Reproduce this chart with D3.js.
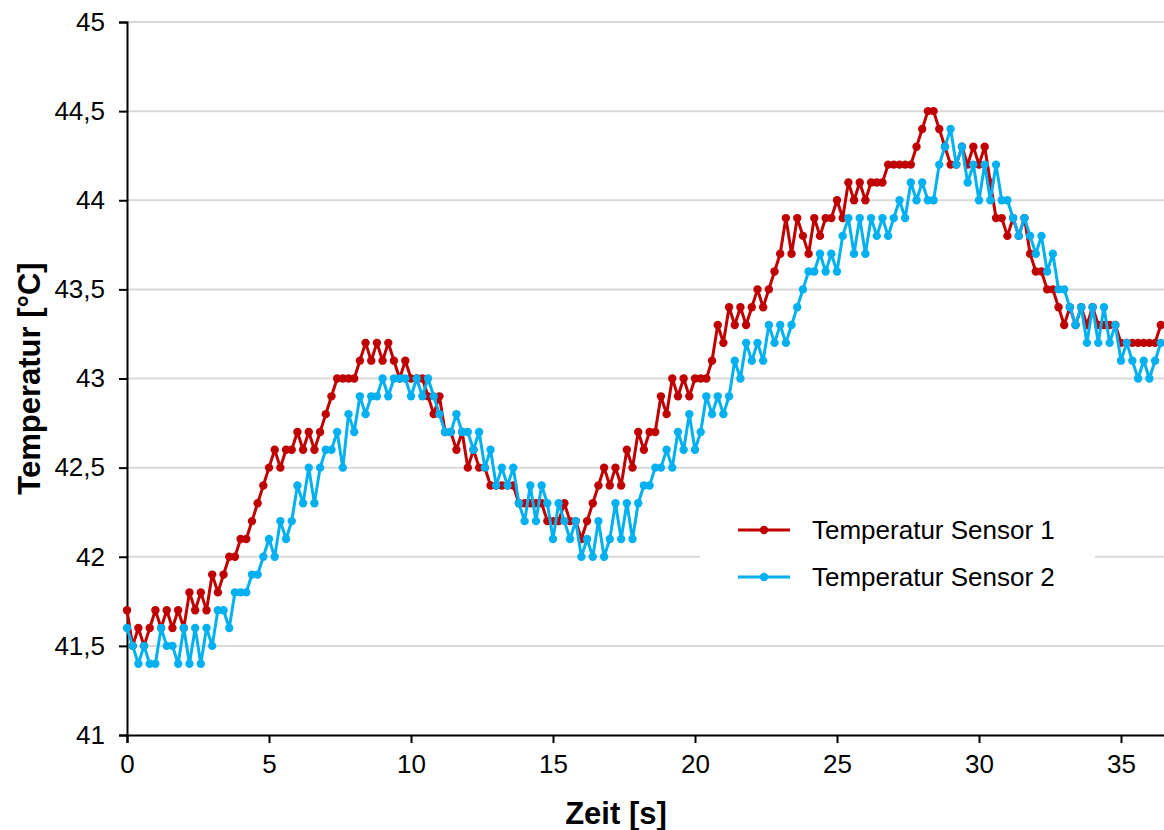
<!DOCTYPE html>
<html>
<head>
<meta charset="utf-8">
<script src="https://cdn.jsdelivr.net/npm/d3@7"></script>
<style>
  html, body { margin: 0; padding: 0; background: #fff; }
  svg { display: block; font-family: "Liberation Sans", Arial, sans-serif; }
</style>
</head>
<body>
<svg id="chart" width="1164" height="830"></svg>
<script>
// sample interval in seconds
const sampleStep = 0.2;
const seriesNames = ["Temperatur Sensor 1", "Temperatur Sensor 2"];
const seriesColors = ["#C00000", "#00B0F0"];
const yTicks = [41, 41.5, 42, 42.5, 43, 43.5, 44, 44.5, 45];
const xTicks = [0, 5, 10, 15, 20, 25, 30, 35];

const sensor1 = [
41.7,41.5,41.6,41.5,41.6,41.7,41.6,41.7,41.6,41.7,
41.6,41.8,41.7,41.8,41.7,41.9,41.8,41.9,42.0,42.0,
42.1,42.1,42.2,42.3,42.4,42.5,42.6,42.5,42.6,42.6,
42.7,42.6,42.7,42.6,42.7,42.8,42.9,43.0,43.0,43.0,
43.0,43.1,43.2,43.1,43.2,43.1,43.2,43.1,43.0,43.1,
43.0,43.0,43.0,42.9,42.8,42.9,42.7,42.7,42.6,42.7,
42.5,42.6,42.5,42.5,42.4,42.4,42.4,42.4,42.4,42.3,
42.3,42.3,42.3,42.3,42.2,42.2,42.2,42.3,42.2,42.2,
42.1,42.2,42.3,42.4,42.5,42.4,42.5,42.4,42.6,42.5,
42.7,42.6,42.7,42.7,42.9,42.8,43.0,42.9,43.0,42.9,
43.0,43.0,43.0,43.1,43.3,43.2,43.4,43.3,43.4,43.3,
43.4,43.5,43.4,43.5,43.6,43.7,43.9,43.7,43.9,43.8,
43.7,43.9,43.8,43.9,43.9,44.0,43.9,44.1,44.0,44.1,
44.0,44.1,44.1,44.1,44.2,44.2,44.2,44.2,44.2,44.3,
44.4,44.5,44.5,44.4,44.3,44.2,44.2,44.3,44.2,44.3,
44.2,44.3,44.1,43.9,43.9,43.8,43.9,43.8,43.9,43.7,
43.6,43.6,43.5,43.5,43.4,43.3,43.4,43.3,43.4,43.3,
43.4,43.3,43.3,43.3,43.3,43.2,43.2,43.2,43.2,43.2,
43.2,43.2,43.3,43.3
];

const sensor2 = [
41.6,41.5,41.4,41.5,41.4,41.4,41.6,41.5,41.5,41.4,
41.6,41.4,41.6,41.4,41.6,41.5,41.7,41.7,41.6,41.8,
41.8,41.8,41.9,41.9,42.0,42.1,42.0,42.2,42.1,42.2,
42.4,42.3,42.5,42.3,42.5,42.6,42.6,42.7,42.5,42.8,
42.7,42.9,42.8,42.9,42.9,43.0,42.9,43.0,43.0,43.0,
42.9,43.0,42.9,43.0,42.9,42.8,42.7,42.7,42.8,42.7,
42.7,42.6,42.7,42.5,42.6,42.4,42.5,42.4,42.5,42.3,
42.2,42.4,42.2,42.4,42.3,42.1,42.3,42.2,42.1,42.2,
42.0,42.1,42.0,42.2,42.0,42.1,42.3,42.1,42.3,42.1,
42.3,42.4,42.4,42.5,42.5,42.6,42.5,42.7,42.6,42.8,
42.6,42.7,42.9,42.8,42.9,42.8,42.9,43.1,43.0,43.2,
43.1,43.2,43.1,43.3,43.2,43.3,43.2,43.3,43.4,43.5,
43.6,43.6,43.7,43.6,43.7,43.6,43.8,43.9,43.7,43.9,
43.7,43.9,43.8,43.9,43.8,43.9,44.0,43.9,44.1,44.0,
44.1,44.0,44.0,44.2,44.3,44.4,44.2,44.3,44.1,44.2,
44.0,44.2,44.0,44.2,44.0,44.0,43.9,43.8,43.9,43.8,
43.7,43.8,43.6,43.7,43.5,43.5,43.4,43.3,43.4,43.2,
43.4,43.2,43.4,43.2,43.3,43.1,43.2,43.1,43.0,43.1,
43.0,43.1,43.2,43.2
];

const series = [sensor1, sensor2];

const svg = d3.select("#chart");
const W = 1164, H = 830;
const margin = { left: 127, top: 22, bottom: 95 };
const plotH = H - margin.top - margin.bottom;

const x = d3.scaleLinear().domain([0, 40]).range([margin.left, margin.left + 40 * 28.4]);
const y = d3.scaleLinear().domain([41, 45]).range([margin.top + plotH, margin.top]);

const fmt = d => String(d).replace(".", ",");
const FONT = "'Liberation Sans', Arial, sans-serif";

// gridlines
svg.append("g")
  .selectAll("line")
  .data(yTicks.filter(d => d !== 41))
  .join("line")
  .attr("x1", x(0)).attr("x2", W)
  .attr("y1", d => y(d)).attr("y2", d => y(d))
  .attr("stroke", "#d9d9d9").attr("stroke-width", 2);

// y axis
const yAxis = svg.append("g")
  .attr("transform", `translate(${x(0)},0)`)
  .call(d3.axisLeft(y).tickValues(yTicks).tickFormat(fmt).tickSize(8).tickPadding(14));
yAxis.select(".domain").attr("stroke", "#000").attr("stroke-width", 2);
yAxis.selectAll(".tick line").attr("stroke", "#000").attr("stroke-width", 2);
yAxis.selectAll(".tick text").attr("font-size", 26).attr("fill", "#000").attr("font-family", FONT);

// x axis
const xAxis = svg.append("g")
  .attr("transform", `translate(0,${y(41)})`)
  .call(d3.axisBottom(x).tickValues(xTicks).tickFormat(d3.format("d")).tickSize(8).tickPadding(12));
xAxis.select(".domain").attr("stroke", "#000").attr("stroke-width", 2);
xAxis.selectAll(".tick line").attr("stroke", "#000").attr("stroke-width", 2);
xAxis.selectAll(".tick text").attr("font-size", 26).attr("fill", "#000").attr("font-family", FONT);

// series
const line = d3.line().x((d, i) => x(i * sampleStep)).y(d => y(d));
series.forEach((vals, k) => {
  const g = svg.append("g");
  g.append("path").datum(vals)
    .attr("d", line)
    .attr("fill", "none")
    .attr("stroke", seriesColors[k])
    .attr("stroke-width", 3)
    .attr("stroke-linejoin", "round");
  g.selectAll("circle").data(vals).join("circle")
    .attr("cx", (d, i) => x(i * sampleStep))
    .attr("cy", d => y(d))
    .attr("r", 4.2)
    .attr("fill", seriesColors[k]);
});

// legend
const lg = svg.append("g");
lg.append("rect").attr("x", 700).attr("y", 500).attr("width", 395).attr("height", 105).attr("fill", "#fff");
seriesNames.forEach((name, k) => {
  const yy = 530 + k * 47;
  lg.append("line").attr("x1", 738).attr("x2", 790).attr("y1", yy).attr("y2", yy)
    .attr("stroke", seriesColors[k]).attr("stroke-width", 3);
  lg.append("circle").attr("cx", 764).attr("cy", yy).attr("r", 4.2).attr("fill", seriesColors[k]);
  lg.append("text").attr("x", 812).attr("y", yy).attr("dy", "0.35em")
    .attr("font-size", 26).attr("font-family", FONT).attr("fill", "#000").text(name);
});

// axis titles
svg.append("text")
  .attr("transform", `translate(40,${y(43)}) rotate(-90)`)
  .attr("text-anchor", "middle")
  .attr("font-size", 31).attr("font-weight", "bold").attr("font-family", FONT)
  .text("Temperatur [°C]");
svg.append("text")
  .attr("x", 616).attr("y", 824)
  .attr("text-anchor", "middle")
  .attr("font-size", 31).attr("font-weight", "bold").attr("font-family", FONT)
  .text("Zeit [s]");
</script>
</body>
</html>
